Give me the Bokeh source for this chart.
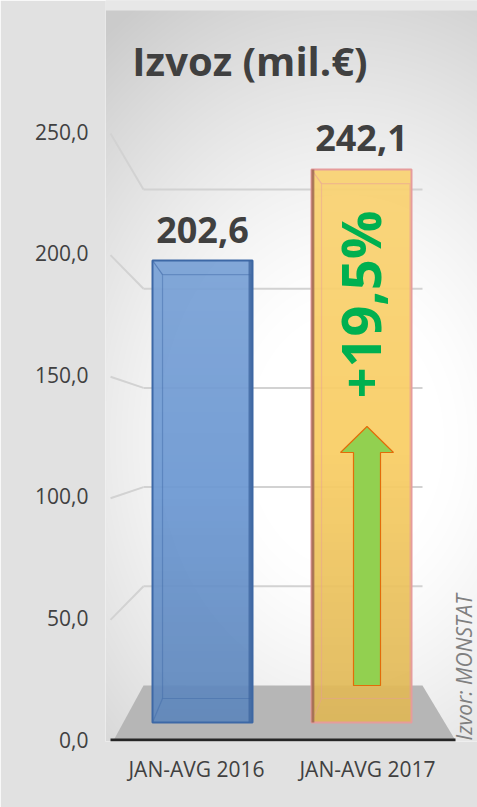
import numpy as np
from bokeh.plotting import figure
from bokeh.models import Range1d, FixedTicker, ColumnDataSource
from bokeh.core.properties import value
from bokeh.embed import file_html
from bokeh.resources import INLINE

# ---------------- data ----------------
categories = ["JAN-AVG 2016", "JAN-AVG 2017"]
export_values = [202.6, 242.1]
y_ticks = [0, 50, 100, 150, 200, 250]
title_text = "Izvoz (mil.€)"
source_text = "Izvor: MONSTAT"

# ---------------- styles ----------------
bar_fill = ["#6a97d1", "#f9cd63"]
bar_edge = ["#3d68a6", "#e69c9c"]
bar_side = ["#3f66a0", "#9a6450"]
FONT = value("Open Sans")
DARK = "#404040"


def fmt(v):
    return f"{v:.1f}".replace(".", ",")


# frame in page pixels
FW, FHT = 477, 807
FL, FR, FT, FB = 105, 477, 0, 741


def py(page_y):
    return FB - page_y


p = figure(width=FW, height=FHT, output_backend="svg", toolbar_location=None,
           x_range=Range1d(0.4678, 2.6433), y_range=Range1d(-0.822, 303.87),
           min_border_left=FL, min_border_right=0, min_border_top=0,
           min_border_bottom=FHT - FB, title=None)
p.extra_x_ranges = {"bx": Range1d(0.3899, 2.7296), "px": Range1d(FL, FR)}
p.extra_y_ranges = {"by": Range1d(-6.163, 315.45), "wy": Range1d(-28.23, 345.26),
                    "py": Range1d(0, FB - FT)}
p.outline_line_color = None
p.border_fill_color = "#e1e1e1"
p.background_fill_color = "#f4f4f4"
p.xgrid.visible = False
p.ygrid.visible = False

# ---------------- background gradient ----------------
W, H = FR - FL, FB - FT
xx = FL + np.arange(W) + 0.5
yy = FB - (np.arange(H) + 0.5)
X, Y = np.meshgrid(xx, yy)
d = np.sqrt(((X - 345) / 330.0) ** 2 + ((Y - 440) / 430.0) ** 2)
t = np.clip((d - 0.3) / 0.9, 0, 1) ** 1.3
g = (255 - 52 * t).astype(np.uint32)
img = (255 << 24) | (g << 16) | (g << 8) | g
p.image_rgba(image=[img], x=FL, y=0, dw=W, dh=H, x_range_name="px", y_range_name="py")
# outer band above the panel
p.quad(left=[FL], right=[FR], top=[py(0)], bottom=[py(10)], fill_color="#e7e7e7",
       line_color=None, x_range_name="px", y_range_name="py")

# ---------------- floor ----------------
p.patch(x=[143, 422, 455, 113], y=[py(685), py(685), py(740), py(740)],
        fill_color="#b6b6b6", line_color=None, x_range_name="px", y_range_name="py")

# ---------------- 3D gridlines ----------------
grid_vals = [v for v in y_ticks if v > 0]
p.segment(x0=[143] * len(grid_vals), x1=[422] * len(grid_vals), y0=grid_vals, y1=grid_vals,
          line_color="#d2d2d2", line_width=2, x_range_name="px", y_range_name="wy")
front_py = [v * 2.432 for v in grid_vals]
back_py = [56 + v * 1.984 for v in grid_vals]
p.segment(x0=[110] * len(grid_vals), x1=[143] * len(grid_vals), y0=front_py, y1=back_py,
          line_color="#d2d2d2", line_width=2, x_range_name="px", y_range_name="py")

# ---------------- bars ----------------
xs = [i + 1 for i in range(len(categories))]
bw = 0.629
base = 2.08
src = ColumnDataSource(dict(x=xs, top=export_values, fill=bar_fill, edge=bar_edge,
                            lab=[fmt(v) for v in export_values]))
p.vbar(x="x", top="top", bottom=base, width=bw, source=src, fill_color="fill",
       fill_alpha=0.92, line_color=None,
       x_range_name="bx", y_range_name="by")

left = [x - bw / 2 for x in xs]
right = [x + bw / 2 for x in xs]

# vertical shading overlay (lighter top, darker bottom)
n = 64
tt = (np.arange(n) + 0.5) / n
shade = np.zeros((n, 4), dtype=np.uint8)
shade[:, 0:3] = np.where(tt[:, None] > 0.5, 255, 0)
shade[:, 3] = np.where(tt > 0.5, (tt - 0.5) * 2 * 24, (0.5 - tt) * 2 * 26).astype(np.uint8)
shade_img = np.ascontiguousarray(np.repeat(shade[:, None, :], 4, axis=1)).view(np.uint32).reshape(n, 4)
p.image_rgba(image=[shade_img] * len(xs), x=left, y=[base] * len(xs), dw=[bw] * len(xs),
             dh=[v - base for v in export_values], x_range_name="bx", y_range_name="by")

# bar outlines
p.vbar(x="x", top="top", bottom=base, width=bw, source=src, fill_color=None,
       line_color="edge", line_width=2, x_range_name="bx", y_range_name="by")

# back-face edges for 3D impression
dx = 0.063
back_top = [v - 6.1 for v in export_values]
p.quad(left=[l + dx for l in left], right=[r - 0.01 for r in right], top=back_top,
       bottom=[12.5] * len(xs), fill_color=None, line_color=bar_edge, line_alpha=0.45,
       line_width=1.2, x_range_name="bx", y_range_name="by")
p.segment(x0=left, x1=[l + dx for l in left], y0=export_values, y1=back_top,
          line_color=bar_edge, line_alpha=0.6, line_width=1.2, x_range_name="bx", y_range_name="by")
p.segment(x0=left, x1=[l + dx for l in left], y0=[base] * len(xs), y1=[12.5] * len(xs),
          line_color=bar_edge, line_alpha=0.45, line_width=1.2, x_range_name="bx", y_range_name="by")
# side strips
p.quad(left=[right[0] - 0.025], right=[right[0]], top=[export_values[0]], bottom=[base],
       fill_color=bar_side[0], fill_alpha=0.8, line_color=None, x_range_name="bx", y_range_name="by")
p.quad(left=[left[1]], right=[left[1] + 0.018], top=[export_values[1]], bottom=[base],
       fill_color=bar_side[1], fill_alpha=0.8, line_color=None, x_range_name="bx", y_range_name="by")

# value labels
p.text(x="x", y="top", text="lab", source=src, x_range_name="bx", y_range_name="by",
       text_font=FONT, text_font_style="bold", text_font_size="36px", text_color=DARK,
       text_align="center", text_baseline="alphabetic", y_offset=-31)

# ---------------- growth arrow & percentage ----------------
p.patch(x=[353, 380, 380, 393, 366.5, 340, 353], y=[py(685), py(685), py(452), py(452), py(426), py(452), py(452)],
        fill_color="#92d050", line_color="#e36c09", line_width=1.2, x_range_name="px", y_range_name="py")
pct = (export_values[1] / export_values[0] - 1) * 100
p.text(x=[359], y=[py(304)], text=["+" + fmt(pct) + "%"], angle=np.pi / 2,
       text_font=FONT, text_font_style="bold", text_font_size="54px", text_color="#00b050",
       text_align="center", text_baseline="middle", x_range_name="px", y_range_name="py")

# ---------------- title, source, axis line ----------------
p.text(x=[249.5], y=[py(60)], text=[title_text], text_font=FONT, text_font_style="bold",
       text_font_size="40px", text_color=DARK, text_align="center", text_baseline="alphabetic",
       x_range_name="px", y_range_name="py")
p.text(x=[463], y=[py(740)], text=[source_text], angle=np.pi / 2, text_font=FONT,
       text_font_style="italic", text_font_size="21px", text_color="#808080",
       text_align="left", text_baseline="alphabetic", x_range_name="px", y_range_name="py")
p.segment(x0=[110], x1=[455], y0=[1.5], y1=[1.5], line_color="#262626", line_width=3,
          x_range_name="px", y_range_name="py")

# ---------------- axes ----------------
p.yaxis.ticker = FixedTicker(ticks=y_ticks)
p.yaxis.major_label_overrides = {v: fmt(v) for v in y_ticks}
p.yaxis.axis_line_color = None
p.yaxis.major_tick_line_color = None
p.yaxis.minor_tick_line_color = None
p.yaxis.major_tick_out = 0
p.yaxis.major_label_standoff = 17
p.yaxis.major_label_text_font = "Open Sans"
p.yaxis.major_label_text_font_size = "21px"
p.yaxis.major_label_text_color = DARK

p.xaxis.ticker = FixedTicker(ticks=xs)
p.xaxis.major_label_overrides = {x: c for x, c in zip(xs, categories)}
p.xaxis.axis_line_color = None
p.xaxis.major_tick_line_color = None
p.xaxis.minor_tick_line_color = None
p.xaxis.major_tick_out = 0
p.xaxis.major_label_standoff = 13
p.xaxis.major_label_text_font = "Open Sans"
p.xaxis.major_label_text_font_size = "21px"
p.xaxis.major_label_text_color = DARK

open("out.html", "w").write(file_html(p, INLINE))
